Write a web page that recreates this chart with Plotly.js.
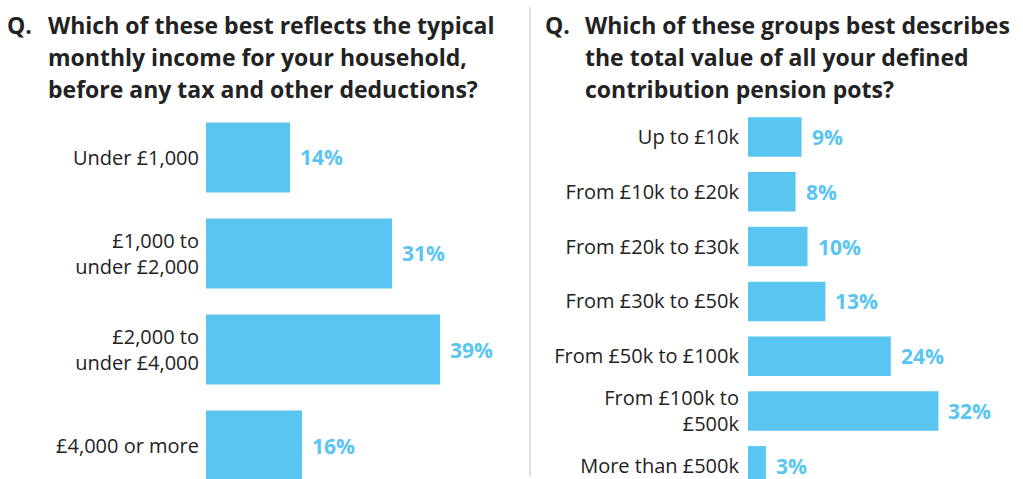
<!DOCTYPE html>
<html>
<head>
<meta charset="utf-8">
<script src="https://cdn.plot.ly/plotly-3.0.1.min.js"></script>
<style>html,body{margin:0;padding:0;background:#fff;}#chart{width:1023px;height:479px;}</style>
</head>
<body>
<div id="chart"></div>
<script>
// ---- data ----
const incomeCategories = ["Under £1,000", "£1,000 to<br>under £2,000", "£2,000 to<br>under £4,000", "£4,000 or more"];
const incomeValues = [14, 31, 39, 16];
const potCategories = ["Up to £10k", "From £10k to £20k", "From £20k to £30k", "From £30k to £50k", "From £50k to £100k", "From £100k to<br>£500k", "More than £500k"];
const potValues = [9, 8, 10, 13, 24, 32, 3];
const leftTitleLines = ["Which of these best reflects the typical", "monthly income for your household,", "before any tax and other deductions?"];
const rightTitleLines = ["Which of these groups best describes", "the total value of all your defined", "contribution pension pots?"];

const W = 1023, H = 479;
const BAR = "#5BC5F2", DARK = "#222222";
const FONT = "Open Sans, Noto Sans, sans-serif";
const px = v => v / W;
const py = v => 1 - v / H;

const traces = [
  {type: "bar", orientation: "h", x: incomeValues, y: incomeCategories, xaxis: "x", yaxis: "y",
   marker: {color: BAR}, width: 0.73, hoverinfo: "none"},
  {type: "bar", orientation: "h", x: potValues, y: potCategories, xaxis: "x2", yaxis: "y2",
   marker: {color: BAR}, width: 0.72, hoverinfo: "none"}
];

const annotations = [];
incomeValues.forEach((v, i) => annotations.push({
  xref: "x", yref: "y", x: v, y: incomeCategories[i], text: v + "%", showarrow: false,
  xanchor: "left", xshift: 8, font: {family: FONT, size: 21, color: BAR, weight: 700}
}));
potValues.forEach((v, i) => annotations.push({
  xref: "x2", yref: "y2", x: v, y: potCategories[i], text: v + "%", showarrow: false,
  xanchor: "left", xshift: 8, font: {family: FONT, size: 21, color: BAR, weight: 700}
}));
const titleFont = {family: FONT, size: 23, color: DARK, weight: 700};
function addTitle(qx, tx, lines) {
  annotations.push({xref: "paper", yref: "paper", x: px(qx), y: py(25), text: "Q.", showarrow: false,
    xanchor: "left", yanchor: "middle", font: titleFont});
  lines.forEach((l, i) => annotations.push({xref: "paper", yref: "paper", x: px(tx), y: py(25 + 32 * i),
    text: l, showarrow: false, xanchor: "left", yanchor: "middle", font: titleFont}));
}
addTitle(5, 46, leftTitleLines);
addTitle(543, 583, rightTitleLines);

const tickFont = {family: FONT, size: 20, color: DARK};
const layout = {
  width: W, height: H, margin: {l: 0, r: 0, t: 0, b: 0},
  paper_bgcolor: "#fff", plot_bgcolor: "#fff", showlegend: false,
  xaxis: {domain: [px(206), px(510)], range: [0, 304 / 6.0], visible: false, fixedrange: true},
  yaxis: {domain: [0, py(110)], anchor: "x", type: "category", range: [(479 - 157.5) / 96, (110 - 157.5) / 96],
    showgrid: false, zeroline: false, showline: false, ticks: "", tickfont: tickFont, ticklabelstandoff: 6},
  xaxis2: {domain: [px(748), px(1013)], range: [0, 265 / 5.95], visible: false, fixedrange: true, anchor: "y2"},
  yaxis2: {domain: [0, py(110)], anchor: "x2", type: "category", range: [(479 - 137) / 54.8, (110 - 137) / 54.8],
    showgrid: false, zeroline: false, showline: false, ticks: "", tickfont: tickFont, ticklabelstandoff: 8},
  annotations: annotations,
  shapes: [{type: "line", xref: "paper", yref: "paper", x0: px(530), x1: px(530), y0: py(7), y1: py(477),
    line: {color: "#e0e0e0", width: 2}}]
};
Plotly.newPlot("chart", traces, layout, {staticPlot: true, displayModeBar: false});
</script>
</body>
</html>
